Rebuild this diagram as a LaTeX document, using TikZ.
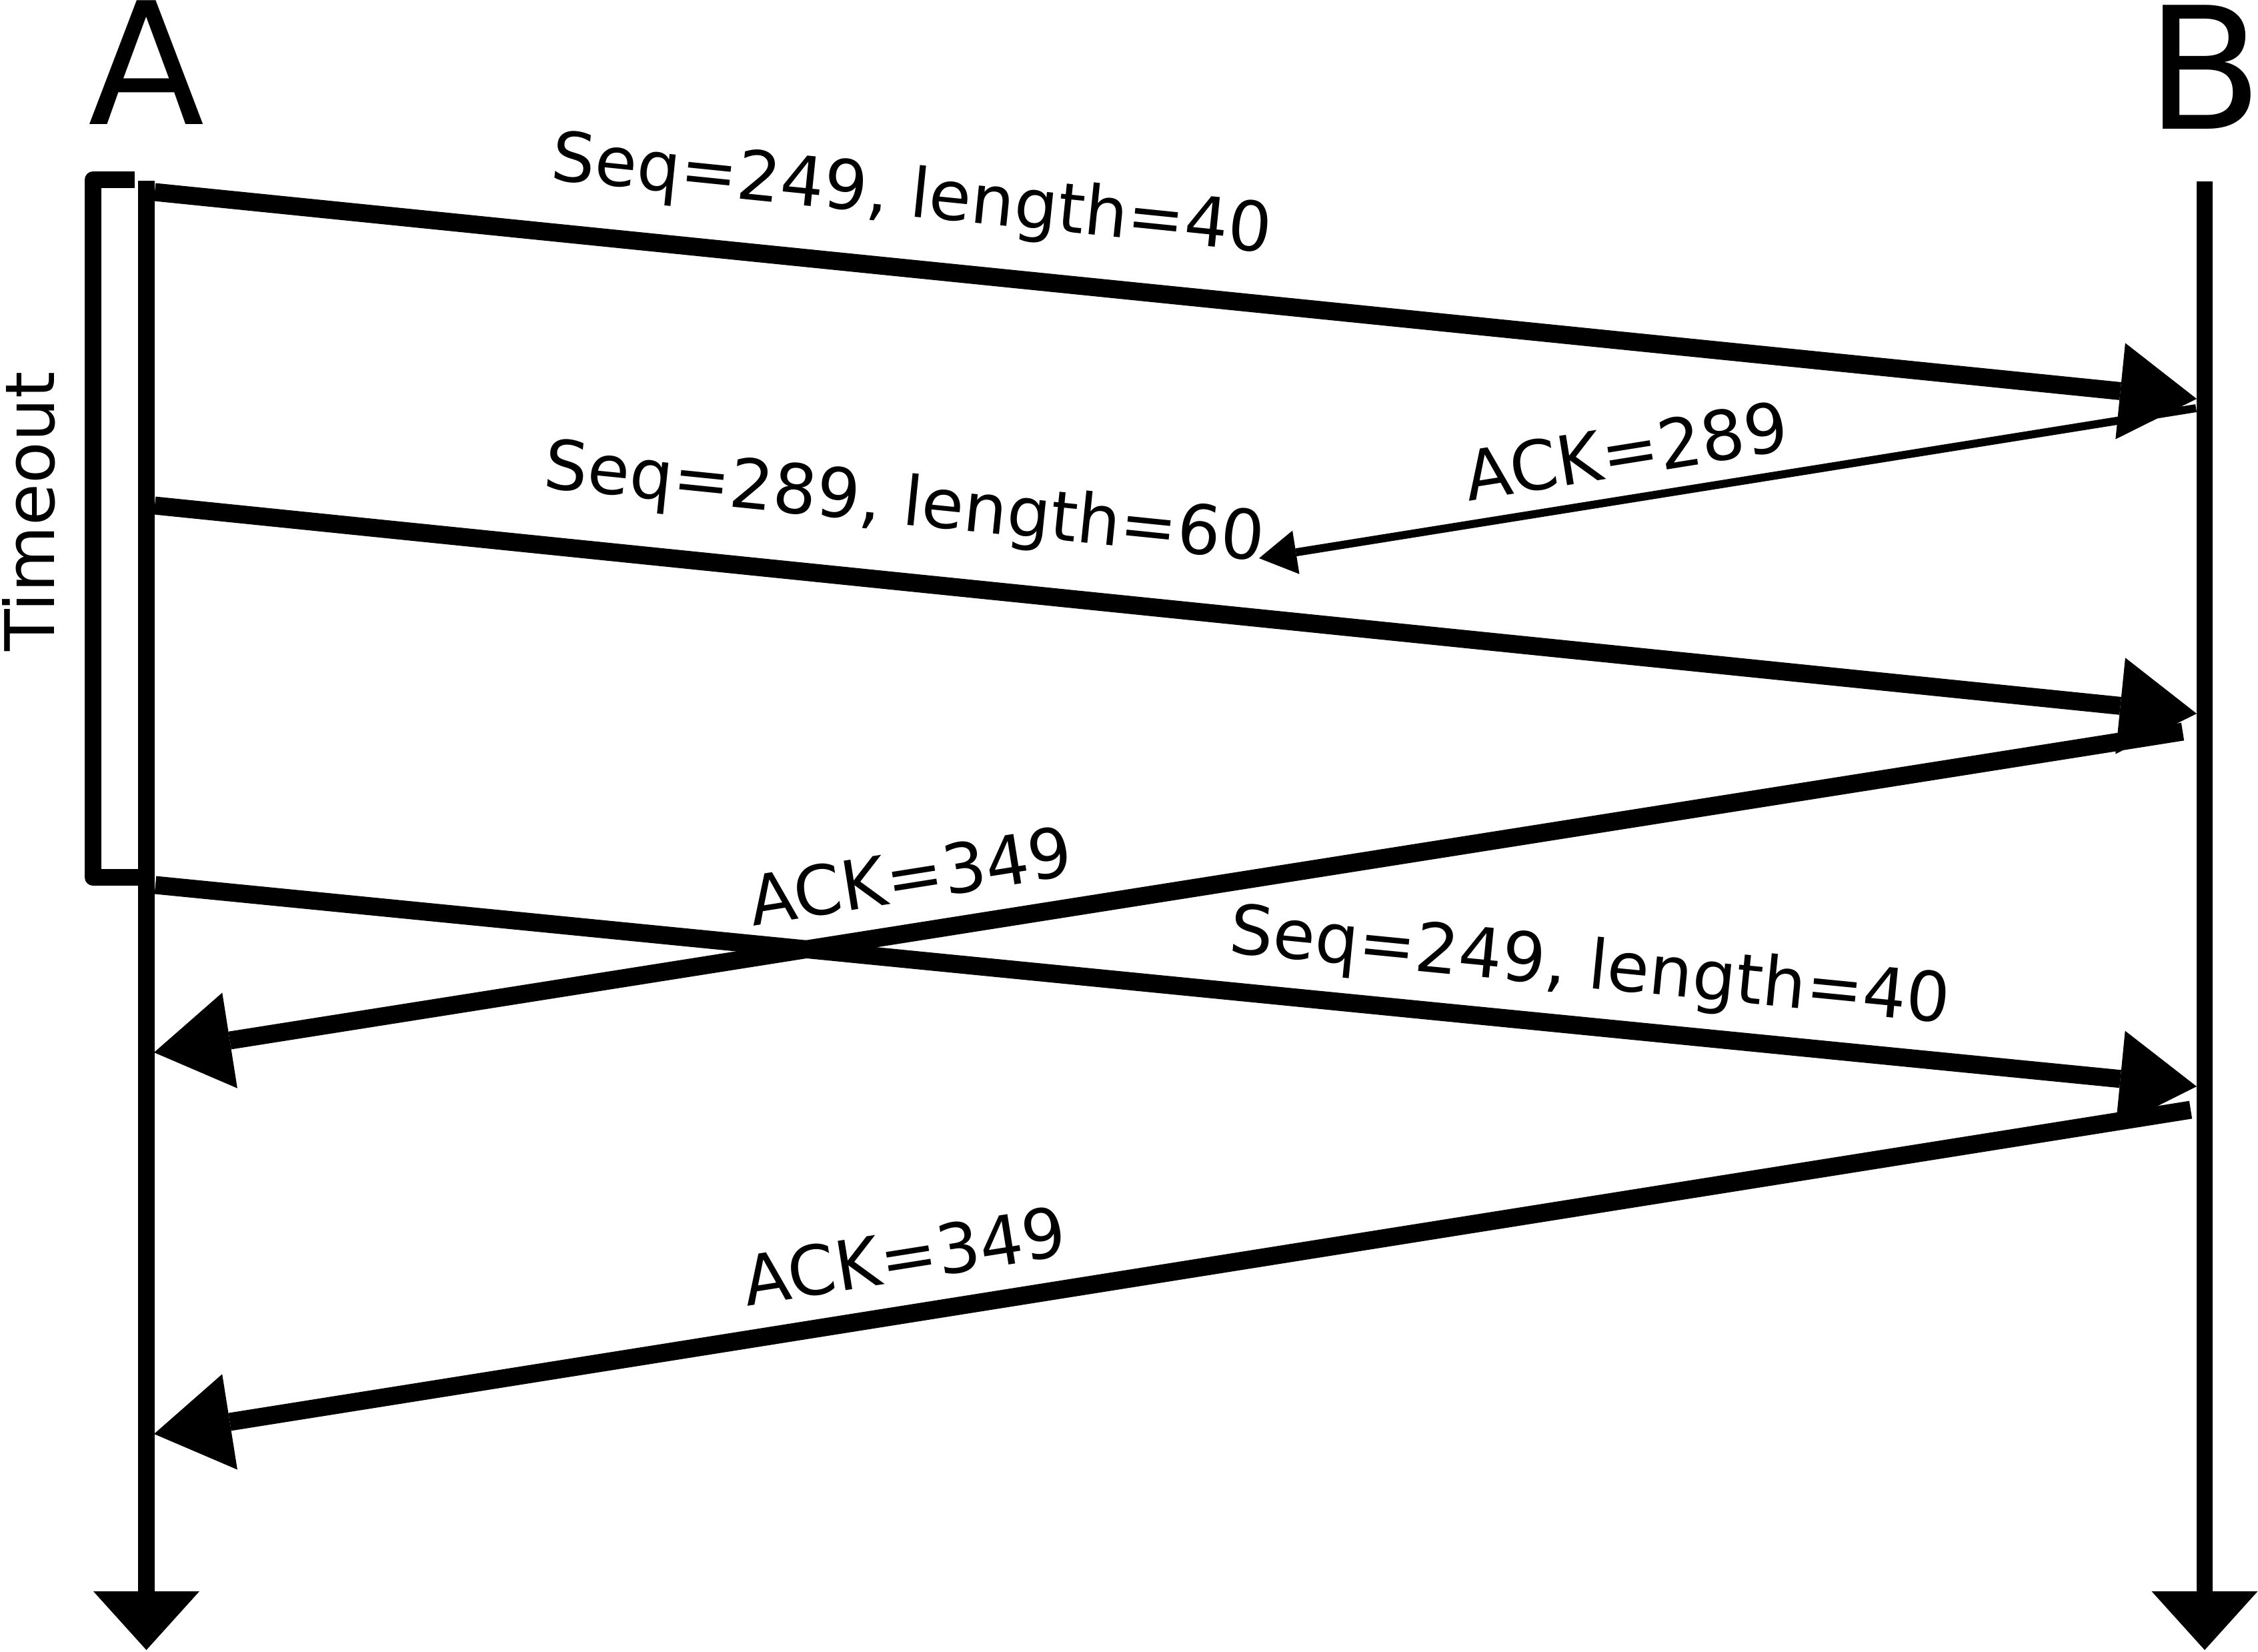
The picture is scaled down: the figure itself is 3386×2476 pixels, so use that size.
\documentclass[tikz,border=0pt]{standalone}
\usepackage{fontspec}
\setmainfont{DejaVu Sans}
\usetikzlibrary{arrows.meta}
\begin{document}
\begin{tikzpicture}[x=0.1mm,y=-0.1mm,
  lifeline/.style={line width=2.45mm, -{Triangle[length=8.8mm,width=15.9mm,line width=0pt]}},
  msg/.style={line width=2.7mm, -{Triangle[length=11.5mm,width=14.5mm,line width=0pt]}},
  thinmsg/.style={line width=1.2mm, -{Triangle[length=5.6mm,width=6.6mm,line width=0pt]}},
  bracket/.style={line width=2.5mm, line join=round},
  lbl/.style={font=\fontsize{29.2pt}{34pt}\selectfont, inner sep=0pt},
  big/.style={font=\fontsize{72.5pt}{80pt}\selectfont, inner sep=0pt, anchor=base},
]
\useasboundingbox (0,0) rectangle (3386,2476);

% lifelines
\coordinate (Atop) at (219.5,271);
\coordinate (Abot) at (219.5,2474);
\coordinate (Btop) at (3306,272);
\coordinate (Bbot) at (3306,2474);
\draw[lifeline] (Atop) -- (Abot);
\draw[lifeline] (Btop) -- (Bbot);

\node[big] (A) at (219.5,186) {A};
\node[big] (B) at (3306,193) {B};

% timeout bracket
\coordinate (t1) at (202,269.5);
\coordinate (t2) at (139.5,269.5);
\coordinate (t3) at (139.5,1315.5);
\coordinate (t4) at (207,1315.5);
\draw[bracket] (t1) -- (t2) -- (t3) -- (t4);
\node[lbl, rotate=90] (timeout) at (43,767) {Timeout};

% messages
\coordinate (m1s) at (232,288);
\coordinate (m1e) at (3294,598);
\coordinate (k1s) at (3293,612);
\coordinate (k1e) at (1888,837);
\coordinate (m2s) at (232,758);
\coordinate (m2e) at (3294,1070);
\coordinate (k2s) at (3273,1097);
\coordinate (k2e) at (231,1578);
\coordinate (m3s) at (233,1327);
\coordinate (m3e) at (3294,1629);
\coordinate (k3s) at (3285,1664);
\coordinate (k3e) at (231,2150);

\draw[msg] (m1s) -- (m1e);
\draw[thinmsg] (k1s) -- (k1e);
\draw[msg] (m2s) -- (m2e);
\draw[msg] (k2s) -- (k2e);
\draw[msg] (m3s) -- (m3e);
\draw[msg] (k3s) -- (k3e);

% labels
\node[lbl, rotate=-5.8] (l1) at (1367,296) {Seq=249, length=40};
\node[lbl, rotate=9.1] (l2) at (2438,676) {ACK=289};
\node[lbl, rotate=-5.8] (l3) at (1356,758) {Seq=289, length=60};
\node[lbl, rotate=9.0] (l4) at (1365,1313) {ACK=349};
\node[lbl, rotate=-5.6] (l5) at (2384,1453) {Seq=249, length=40};
\node[lbl, rotate=9.0] (l6) at (1356,1883) {ACK=349};
\end{tikzpicture}
\end{document}
